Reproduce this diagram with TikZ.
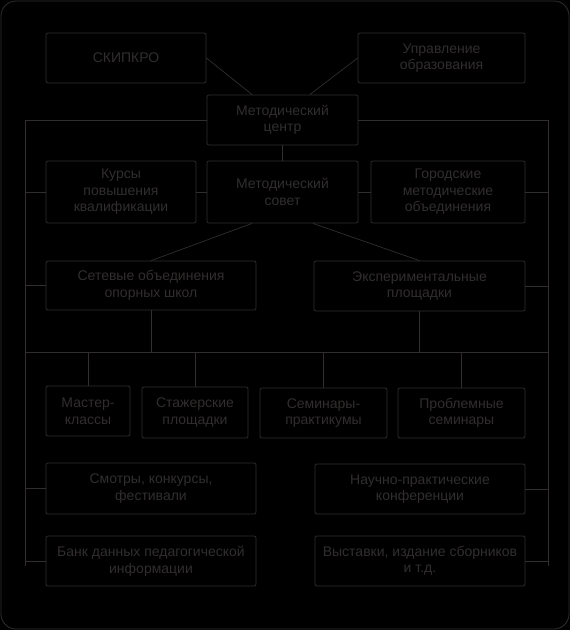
\documentclass[tikz,border=0pt]{standalone}
\usepackage{fontspec}
\setmainfont{Liberation Sans}
\usetikzlibrary{calc}
\definecolor{ink}{RGB}{50,46,46}

\begin{document}
\begin{tikzpicture}[x=1pt,y=-1pt,
  every node/.style={font=\fontsize{14}{16.5}\selectfont,text=ink},
  box/.style={draw=ink,rounded corners=2pt,line width=0.7pt,align=center,inner sep=0pt},
  ln/.style={draw=ink,line width=0.7pt}]

  % background and frame
  \fill[black] (0,0) rectangle (570,630);
  \draw[ink,line width=0.8pt,rounded corners=15pt] (1,1) rectangle (569,629);

  % Row 1
  \node[box,minimum width=160pt,minimum height=50pt] (skip) at (126,58) {СКИПКРО};
  \node[box,minimum width=167pt,minimum height=50pt] (upr) at (441.5,58) {Управление\\образования};
  \node[box,minimum width=151pt,minimum height=50pt] (mc) at (282.5,120) {Методический\\центр};

  % Row 2
  \node[box,minimum width=150pt,minimum height=62pt] (kurs) at (121,192) {Курсы\\повышения\\квалификации};
  \node[box,minimum width=151pt,minimum height=62pt] (ms) at (282.5,192) {Методический\\совет};
  \node[box,minimum width=154pt,minimum height=62pt] (gmo) at (448,192) {Городские\\методические\\объединения};

  % Row 3
  \node[box,minimum width=210pt,minimum height=49pt] (set) at (151,285.5) {Сетевые объединения\\опорных школ};
  \node[box,minimum width=211pt,minimum height=50pt] (exp) at (419.5,286) {Экспериментальные\\площадки};

  % Row 4
  \node[box,minimum width=84pt,minimum height=50pt] (mk) at (88,411) {Мастер-\\классы};
  \node[box,minimum width=106pt,minimum height=51pt] (st) at (195,412.5) {Стажерские\\площадки};
  \node[box,minimum width=127pt,minimum height=50pt] (sp) at (323.5,413) {Семинары-\\практикумы};
  \node[box,minimum width=127pt,minimum height=50pt] (ps) at (461.5,413) {Проблемные\\семинары};

  % Rows 5 and 6
  \node[box,minimum width=210pt,minimum height=51pt] (smk) at (151,488.5) {Смотры, конкурсы,\\фестивали};
  \node[box,minimum width=210pt,minimum height=50pt] (npk) at (420,489) {Научно-практические\\конференции};
  \node[box,minimum width=210pt,minimum height=50pt] (bank) at (151,561) {Банк данных педагогической\\информации};
  \node[box,minimum width=210pt,minimum height=50pt] (vyst) at (420,561) {Выставки, издание сборников\\и т.д.};

  % bus ends
  \coordinate (lb) at (25,566);
  \coordinate (rb) at (548,566);
  \coordinate (hl) at (25,352);

  % Top links
  \draw[ln] (skip.east) -- ($(mc.north west)!0.3!(mc.north east)$);
  \draw[ln] (upr.west) -- ($(mc.north west)!0.68!(mc.north east)$);
  \draw[ln] (mc.south) -- (ms.north);
  \draw[ln] (kurs.east) -- (ms.west);
  \draw[ln] (ms.east) -- (gmo.west);
  \draw[ln] ($(ms.south west)!0.3!(ms.south east)$) -- (set.north);
  \draw[ln] ($(ms.south west)!0.7!(ms.south east)$) -- (exp.north);

  % Side buses
  \draw[ln] (mc.west) -| (lb);
  \draw[ln] (mc.east) -| (rb);
  \draw[ln] (kurs.west) -- (kurs.west -| lb);
  \draw[ln] (set.west) -- (set.west -| lb);
  \draw[ln] (smk.west) -- (smk.west -| lb);
  \draw[ln] (bank.west) -- (bank.west -| lb);
  \draw[ln] (gmo.east) -- (gmo.east -| rb);
  \draw[ln] (exp.east) -- (exp.east -| rb);
  \draw[ln] (npk.east) -- (npk.east -| rb);
  \draw[ln] (vyst.east) -- (vyst.east -| rb);

  % Middle bus
  \draw[ln] (hl) -- (hl -| rb);
  \draw[ln] (set.south) -- (set.south |- hl);
  \draw[ln] (exp.south) -- (exp.south |- hl);
  \draw[ln] (mk.north) -- (mk.north |- hl);
  \draw[ln] (st.north) -- (st.north |- hl);
  \draw[ln] (sp.north) -- (sp.north |- hl);
  \draw[ln] (ps.north) -- (ps.north |- hl);

\end{tikzpicture}
\end{document}
